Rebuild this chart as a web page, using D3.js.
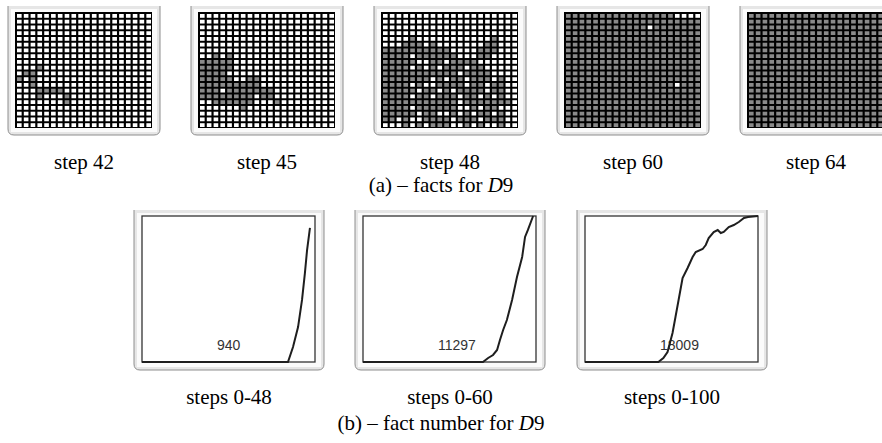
<!DOCTYPE html>
<html>
<head>
<meta charset="utf-8">
<script src="https://cdn.jsdelivr.net/npm/d3@7"></script>
<style>
  body { margin: 0; background: #fff; }
  svg { display: block; }
</style>
</head>
<body>
<div id="chart"></div>
<script>
var width = 882;
var height = 443;

// (a) captions and the cell states (# = fact present, grey cell)
var gridCaptions = ["step 42", "step 45", "step 48", "step 60", "step 64"];

var grid42 = [
  "....................",
  "....................",
  "....................",
  "....................",
  "....................",
  "....................",
  "....................",
  "....................",
  "....................",
  "...#................",
  ".##.................",
  "#.#.................",
  "..#.................",
  "...####.............",
  "...#...#............",
  ".......#............",
  "....................",
  "....................",
  "....................",
  "...................."
];

var grid45 = [
  "....................",
  "....................",
  "....................",
  "....................",
  "....................",
  "....................",
  "....................",
  "..#.#...............",
  "#####...............",
  "#####...............",
  "####................",
  "#####..##...........",
  "#########...........",
  "###.#######.........",
  "########.##.........",
  "..######...#........",
  "......#.............",
  "....................",
  "....................",
  "...................."
];

var grid48 = [
  "....................",
  "....................",
  "....................",
  "....................",
  "....#...........#...",
  "...###.#.......##...",
  "##########....###...",
  "####.######...##....",
  "#####..##.####......",
  "####.#.#.###.##.....",
  "###########.####....",
  "#######.#.##.###.#..",
  "####.#..####.##.##..",
  "#####.##.#.####.##..",
  "####.##.###.##.#.#..",
  "###########.#######.",
  "####.######..#.##...",
  "#####.##..#.#.##.#..",
  "##.#..####.###.###..",
  "...#.#.###..#.#..#.."
];

var grid60 = [
  "################....",
  "####################",
  "############.#######",
  "####################",
  "####################",
  "####################",
  "####################",
  "####################",
  "####################",
  "####################",
  "####################",
  "####################",
  "################.###",
  "####################",
  "####################",
  "####################",
  "####################",
  "####################",
  "####################",
  "####################"
];

var grid64 = [
  "####################",
  "####################",
  "####################",
  "####################",
  "####################",
  "####################",
  "####################",
  "####################",
  "####################",
  "####################",
  "####################",
  "####################",
  "####################",
  "####################",
  "####################",
  "####################",
  "####################",
  "####################",
  "####################",
  "####################"
];

var grids = [grid42, grid45, grid48, grid60, grid64];

// (b) fact number curves: [step, facts]
var lineCaptions = ["steps 0-48", "steps 0-60", "steps 0-100"];
var lineLabels = ["940", "11297", "18009"];
var lineStepMax = [48, 60, 100];
var lineFactMax = [1024, 11297, 18009];

var curve48 = [[0, 0], [40.5, 0], [41.9, 105], [43.3, 245], [44.4, 435], [45.2, 624], [45.8, 785], [46.6, 940]];
var curve60 = [[0, 0], [41.6, 0], [43.4, 310], [45.1, 542], [46.5, 929], [47.5, 1703], [48.6, 2477],
  [49.9, 3251], [51.7, 4799], [53.4, 6579], [55.2, 8127], [56.2, 9675], [57.2, 10217], [59, 11297]];
var curve100 = [[0, 0], [42.4, 0], [45.3, 493], [47.7, 1234], [50.6, 3577], [52.3, 5551], [54.1, 7648],
  [56.4, 10361], [59.3, 11595], [62.2, 12952], [64, 13569], [68, 13939], [69.8, 14432], [71.5, 15295],
  [74.4, 16036], [76.7, 16282], [78.5, 15912], [80.2, 16036], [83.1, 16652], [86, 16899], [88.9, 17269],
  [91.9, 17762], [94.2, 17886], [100, 18009]];
var curves = [curve48, curve60, curve100];

var svg = d3.select("#chart").append("svg")
  .attr("width", width)
  .attr("height", height);

var serif = "'Liberation Serif', 'Times New Roman', serif";

// window-like frame, open at the top
function drawFrame(x, y, w, h) {
  var r = 6;
  var d = "M" + x + "," + y + " V" + (y + h - r) +
    " Q" + x + "," + (y + h) + " " + (x + r) + "," + (y + h) +
    " H" + (x + w - r) +
    " Q" + (x + w) + "," + (y + h) + " " + (x + w) + "," + (y + h - r) +
    " V" + y;
  svg.append("path").attr("d", d + " Z").attr("fill", "#e6e6e6");
  svg.append("path").attr("d", d).attr("fill", "none")
    .attr("stroke", "#8e8e8e").attr("stroke-width", 1);
  svg.append("rect")
    .attr("x", x + 3).attr("y", y + 3)
    .attr("width", w - 6).attr("height", h - 6)
    .attr("fill", "#fbfbfb");
}

// ---- (a) grids ----
var gridFrameX0 = 8, gridFrameStep = 183, gridFrameY = 6;
var gridFrameW = 152, gridFrameH = 129;

grids.forEach(function (rows, i) {
  var fx = gridFrameX0 + i * gridFrameStep;
  drawFrame(fx, gridFrameY, gridFrameW, gridFrameH);

  var gx = fx + 7, gy = gridFrameY + 6, gw = 137, gh = 116;
  svg.append("rect").attr("x", gx).attr("y", gy)
    .attr("width", gw).attr("height", gh).attr("fill", "#000");

  var xBand = d3.scaleBand().domain(d3.range(rows[0].length))
    .range([gx + 2, gx + gw - 1]).paddingInner(0.32);
  var yBand = d3.scaleBand().domain(d3.range(rows.length))
    .range([gy + 2, gy + gh - 1]).paddingInner(0.34);

  var cells = [];
  rows.forEach(function (row, r) {
    row.split("").forEach(function (ch, c) {
      cells.push({ r: r, c: c, on: ch === "#" });
    });
  });

  svg.append("g").selectAll("rect").data(cells).enter().append("rect")
    .attr("x", function (d) { return xBand(d.c); })
    .attr("y", function (d) { return yBand(d.r); })
    .attr("width", xBand.bandwidth())
    .attr("height", yBand.bandwidth())
    .attr("fill", function (d) { return d.on ? "#8a8a8a" : "#ffffff"; });

  svg.append("text")
    .attr("x", fx + gridFrameW / 2).attr("y", 169)
    .attr("text-anchor", "middle")
    .attr("font-family", serif).attr("font-size", 21)
    .attr("fill", "#000")
    .text(gridCaptions[i]);
});

var capA = svg.append("text")
  .attr("x", 441).attr("y", 192)
  .attr("text-anchor", "middle")
  .attr("font-family", serif).attr("font-size", 21);
capA.append("tspan").text("(a) \u2013 facts for ");
capA.append("tspan").attr("font-style", "italic").text("D");
capA.append("tspan").text("9");

// ---- (b) fact number curves ----
var lineFrameX = [134, 355, 577], lineFrameY = 210;
var lineFrameW = 190, lineFrameH = 160;

curves.forEach(function (pts, i) {
  var fx = lineFrameX[i];
  drawFrame(fx, lineFrameY, lineFrameW, lineFrameH);

  var px = fx + 8, py = 216, pw = 173, ph = 146;
  svg.append("rect").attr("x", px).attr("y", py)
    .attr("width", pw).attr("height", ph)
    .attr("fill", "#fff").attr("stroke", "#333").attr("stroke-width", 1.3);

  var x = d3.scaleLinear().domain([0, lineStepMax[i]]).range([px, px + pw]);
  var y = d3.scaleLinear().domain([0, lineFactMax[i]]).range([py + ph, py]);

  svg.append("text")
    .attr("x", px + 75).attr("y", 350)
    .attr("font-family", "'Liberation Sans', Arial, sans-serif")
    .attr("font-size", 14).attr("fill", "#333")
    .text(lineLabels[i]);

  svg.append("path")
    .datum(pts)
    .attr("d", d3.line().x(function (d) { return x(d[0]); }).y(function (d) { return y(d[1]); }))
    .attr("fill", "none").attr("stroke", "#1e1e1e").attr("stroke-width", 2);

  svg.append("text")
    .attr("x", fx + lineFrameW / 2).attr("y", 404)
    .attr("text-anchor", "middle")
    .attr("font-family", serif).attr("font-size", 21)
    .text(lineCaptions[i]);
});

var capB = svg.append("text")
  .attr("x", 441).attr("y", 430)
  .attr("text-anchor", "middle")
  .attr("font-family", serif).attr("font-size", 21);
capB.append("tspan").text("(b) \u2013 fact number for ");
capB.append("tspan").attr("font-style", "italic").text("D");
capB.append("tspan").text("9");
</script>
</body>
</html>
